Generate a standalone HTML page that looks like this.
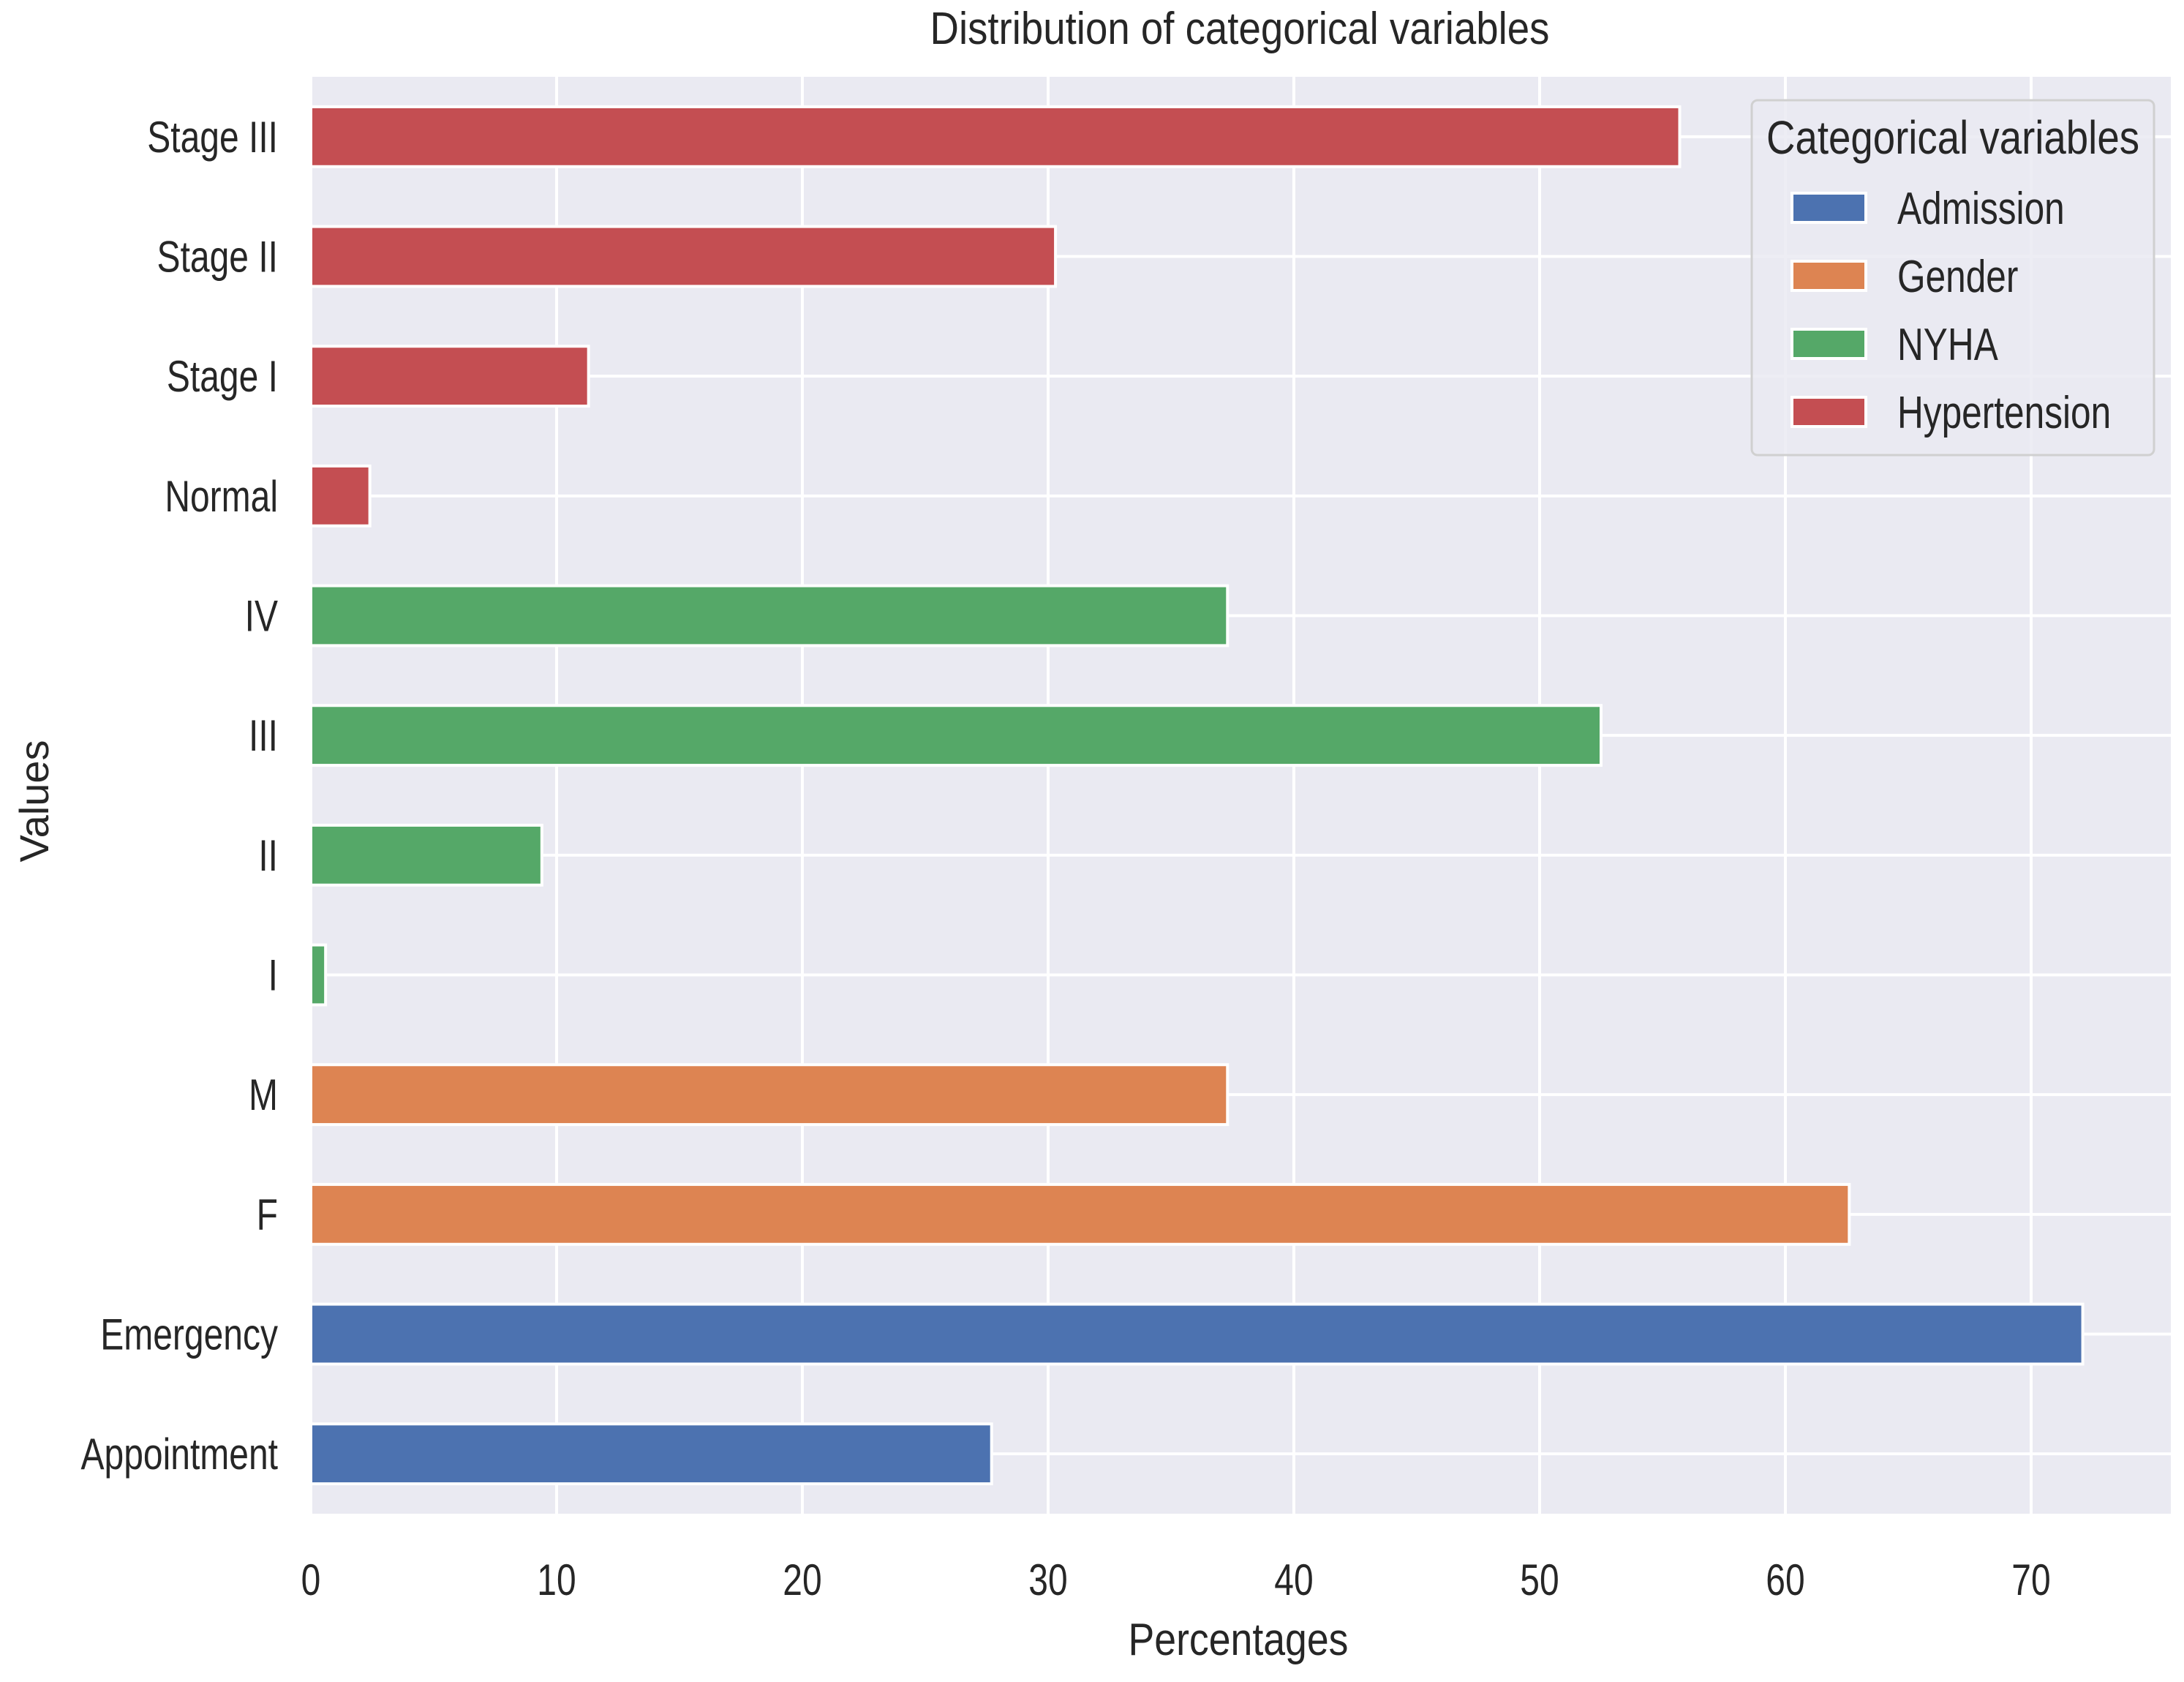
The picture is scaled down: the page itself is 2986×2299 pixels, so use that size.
<!DOCTYPE html>
<html><head><meta charset="utf-8">
<style>
html,body{margin:0;padding:0;background:#fff;}
svg{display:block;}
text{fill:#262626;}
.n{font-family:"Liberation Sans",sans-serif;}
.r{font-family:"Liberation Sans",sans-serif;}
</style></head>
<body>
<svg id="chart" width="2986" height="2299" viewBox="0 0 2986 2299" xmlns="http://www.w3.org/2000/svg">
  <rect x="0" y="0" width="2986" height="2299" fill="#ffffff"/>
  <rect x="425" y="105" width="2543" height="1964" fill="#EAEAF2"/>
  <g id="grid"></g>
  <g id="bars"></g>
  <g id="yticks"></g>
  <g id="xticks"></g>
  <text class="n" x="1695" y="60" font-size="62" text-anchor="middle" textLength="847" lengthAdjust="spacingAndGlyphs">Distribution of categorical variables</text>
  <text class="n" x="1693" y="2262" font-size="62" text-anchor="middle" textLength="301" lengthAdjust="spacingAndGlyphs">Percentages</text>
  <text class="r" x="0" y="0" font-size="56" text-anchor="middle" transform="translate(66,1095) rotate(-90)">Values</text>
  <g id="legend">
    <rect x="2395" y="137" width="550" height="485" rx="8" fill="#EAEAF2" fill-opacity="0.85" stroke="#d0d0d0" stroke-width="3"/>
    <text class="n" x="2415" y="210" font-size="64" textLength="510" lengthAdjust="spacingAndGlyphs">Categorical variables</text>
  </g>
</svg>
<script>
const categories = ["Appointment","Emergency","F","M","I","II","III","IV","Normal","Stage I","Stage II","Stage III"];
const values = [27.7, 72.1, 62.6, 37.3, 0.6, 9.4, 52.5, 37.3, 2.4, 11.3, 30.3, 55.7];
const groups = ["Admission","Admission","Gender","Gender","NYHA","NYHA","NYHA","NYHA","Hypertension","Hypertension","Hypertension","Hypertension"];
const legendLabels = ["Admission","Gender","NYHA","Hypertension"];
const legendColors = ["#4C72B0","#DD8452","#55A868","#C44E52"];
const xTicks = [0,10,20,30,40,50,60,70];

const NS = "http://www.w3.org/2000/svg";
const L = 425, R = 2968, T = 105, B = 2069;
const pxPerUnit = 33.6;
const SX = 0.8;
function xs(v){ return L + v*pxPerUnit; }
const n = categories.length;
const band = (B - T) / n;
function yc(i){ return B - band*(i+0.5); }
function mk(tag, attrs){ const e = document.createElementNS(NS, tag); for (const k in attrs) e.setAttribute(k, attrs[k]); return e; }

const grid = document.getElementById('grid');
xTicks.forEach(t => {
  const l = mk('line', {x1:xs(t), x2:xs(t), y1:T, y2:B, stroke:'#fff', 'stroke-width':4});
  
  
  grid.appendChild(l);
});
categories.forEach((c,i) => {
  const l = mk('line', {x1:L, x2:R, y1:yc(i), y2:yc(i), stroke:'#fff', 'stroke-width':4});
  
  
  grid.appendChild(l);
});

const bars = document.getElementById('bars');
const bh = band*0.5;
categories.forEach((c,i) => {
  const col = legendColors[legendLabels.indexOf(groups[i])];
  const r = mk('rect', {x:L, y:yc(i)-bh/2, width:xs(values[i])-L, height:bh, fill:col, stroke:'#fff', 'stroke-width':4});
  
  
  bars.appendChild(r);
});

const yt = document.getElementById('yticks');
categories.forEach((c,i) => {
  const t = mk('text', {x:0, y:0, 'font-size':60, 'text-anchor':'end', class:'n', transform:'translate(380,'+(yc(i)+21)+') scale('+SX+',1)'});
  t.textContent = c;
  
  
  yt.appendChild(t);
});
const xt = document.getElementById('xticks');
xTicks.forEach(v => {
  const t = mk('text', {x:0, y:0, 'font-size':60, 'text-anchor':'middle', class:'n', transform:'translate('+xs(v)+',2180) scale('+SX+',1)'});
  t.textContent = v;
  
  
  xt.appendChild(t);
});

const lg = document.getElementById('legend');
const ly = [284, 377, 470, 563];
legendLabels.forEach((lab,i) => {
  const g = mk('g', {});
  
  
  const p = mk('rect', {x:2450, y:ly[i]-20, width:101, height:40, fill:legendColors[i], stroke:'#fff', 'stroke-width':4});
  
  
  const t = mk('text', {x:0, y:0, 'font-size':62, class:'n', transform:'translate(2594,'+(ly[i]+22)+') scale('+SX+',1)'});
  t.textContent = lab;
  
  
  g.appendChild(p); g.appendChild(t);
  lg.appendChild(g);
});
</script>
</body></html>
